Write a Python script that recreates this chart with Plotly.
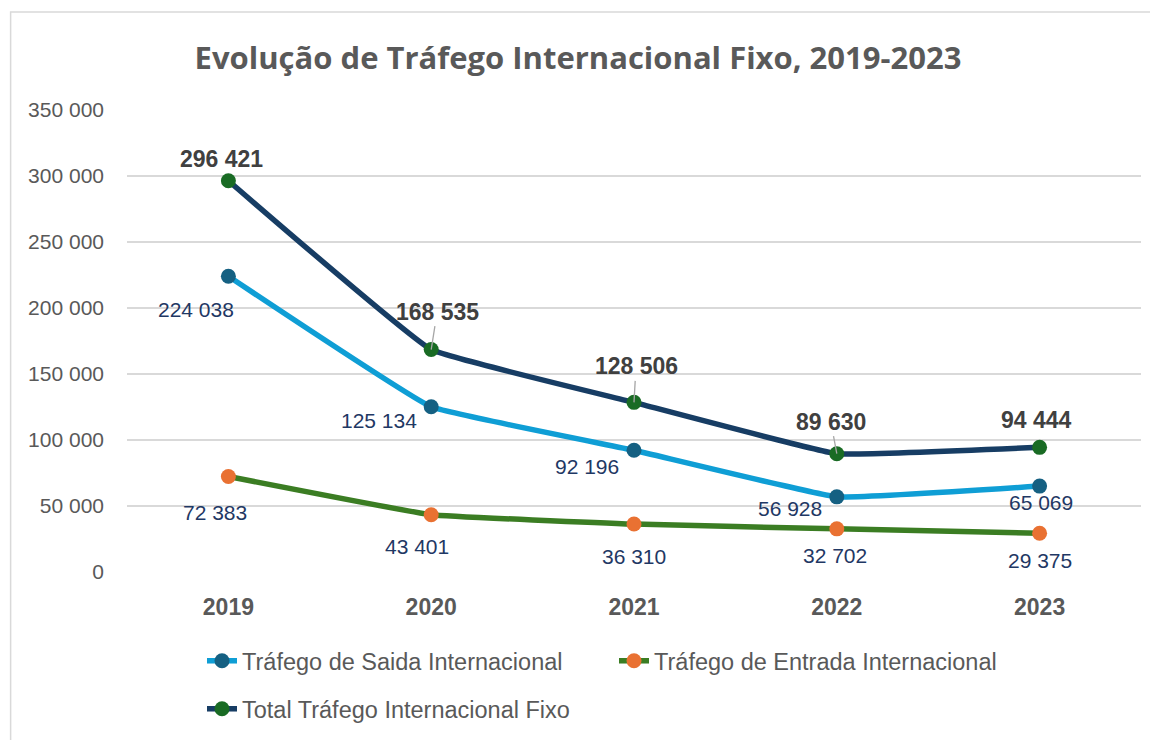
import plotly.graph_objects as go

# ---- data ----
years = ["2019", "2020", "2021", "2022", "2023"]
saida = [224038, 125134, 92196, 56928, 65069]
entrada = [72383, 43401, 36310, 32702, 29375]
total = [296421, 168535, 128506, 89630, 94444]
names = ["Tráfego de Saida Internacional", "Tráfego de Entrada Internacional",
         "Total Tráfego Internacional Fixo"]
title_text = "Evolução de Tráfego Internacional Fixo, 2019-2023"
y_ticks = [0, 50000, 100000, 150000, 200000, 250000, 300000, 350000]

# label pixel offsets (dx, dy; dy positive = down)
saida_off = [(-32, 33), (-52, 14), (-47, 16), (-47, 12), (1, 16)]
entrada_off = [(-13, 36), (-14, 32), (0, 32), (-2, 27), (0, 27)]
total_off = [(-7, -22), (6, -38), (2, -36), (-6, -32), (-3, -27)]
total_leader = [False, True, True, True, False]

def fmt(v):
    return f"{v:,}".replace(",", " ")

GRAY = "#595959"
NAVY_TXT = "#1F3864"
FONT = "Liberation Sans, Arial"

fig = go.Figure()
fig.add_trace(go.Scatter(
    x=years, y=saida, name=names[0], mode="lines+markers",
    line=dict(color="#0F9ED5", width=5.5, shape="spline", smoothing=0.25),
    marker=dict(color="#156082", size=15), legend="legend"))
fig.add_trace(go.Scatter(
    x=years, y=entrada, name=names[1], mode="lines+markers",
    line=dict(color="#3B7D23", width=5.5, shape="spline", smoothing=0.25),
    marker=dict(color="#E97132", size=15), legend="legend"))
fig.add_trace(go.Scatter(
    x=years, y=total, name=names[2], mode="lines+markers",
    line=dict(color="#173D64", width=5.5, shape="spline", smoothing=0.25),
    marker=dict(color="#196B24", size=15), legend="legend2"))

ann = []
for i, yr in enumerate(years):
    dx, dy = saida_off[i]
    ann.append(dict(x=i, y=saida[i], xref="x", yref="y", text=fmt(saida[i]),
                    showarrow=False, xshift=dx, yshift=-dy,
                    font=dict(family=FONT, size=21, color=NAVY_TXT)))
    dx, dy = entrada_off[i]
    ann.append(dict(x=i, y=entrada[i], xref="x", yref="y", text=fmt(entrada[i]),
                    showarrow=False, xshift=dx, yshift=-dy,
                    font=dict(family=FONT, size=21, color=NAVY_TXT)))
    dx, dy = total_off[i]
    if total_leader[i]:
        ann.append(dict(x=i, y=total[i], xref="x", yref="y",
                        text="<b>" + fmt(total[i]) + "</b>",
                        showarrow=True, ax=dx, ay=dy, arrowhead=0, arrowwidth=1.3,
                        arrowcolor="#A6A6A6",
                        font=dict(family=FONT, size=23, color="#404040")))
    else:
        ann.append(dict(x=i, y=total[i], xref="x", yref="y",
                        text="<b>" + fmt(total[i]) + "</b>",
                        showarrow=False, xshift=dx, yshift=-dy,
                        font=dict(family=FONT, size=23, color="#404040")))

# page has an 8px body margin; figure is drawn in screen coords minus OFF
OFF = 8
W, H = 1150, 732
L, R, T, B = 118.5, 16.5, 102, 168
pw, ph = W - L - R, H - T - B

def px_x(p):  # screen px -> paper x
    return (p - OFF - L) / pw

def px_y(p):  # screen px -> paper y
    return (H - B - (p - OFF)) / ph

def cx(p):  # screen px -> container x
    return (p - OFF) / W

def cy(p):  # screen px -> container y
    return 1 - (p - OFF) / H

fig.update_layout(
    width=W, height=H,
    margin=dict(l=L, r=R, t=T, b=B, autoexpand=False),
    paper_bgcolor="white", plot_bgcolor="white",
    separators=". ",
    title=dict(text="<b>" + title_text + "</b>", x=cx(578), xanchor="center",
               y=cy(58), yanchor="middle", xref="container", yref="container",
               font=dict(family="Open Sans", size=31, color=GRAY)),
    xaxis=dict(type="category", range=[-0.5, 4.5], showgrid=False, showline=False,
               zeroline=False, ticks="", ticklabelstandoff=19,
               tickfont=dict(family=FONT, size=23, color=GRAY),
               tickprefix="<b>", ticksuffix="</b>"),
    yaxis=dict(range=[0, 350000], tickvals=y_ticks, tickformat=",d",
               showgrid=True, gridcolor="#D9D9D9", gridwidth=1.5,
               zeroline=False, showline=False, ticks="", ticklabelstandoff=22,
               tickfont=dict(family=FONT, size=21, color=GRAY)),
    legend=dict(orientation="h", xref="container", yref="container",
                x=cx(202), xanchor="left", y=cy(661), yanchor="middle",
                entrywidth=367, entrywidthmode="pixels", bgcolor="rgba(0,0,0,0)",
                font=dict(family=FONT, size=23.5, color=GRAY)),
    legend2=dict(orientation="h", xref="container", yref="container",
                 x=cx(202), xanchor="left", y=cy(709), yanchor="middle",
                 bgcolor="rgba(0,0,0,0)",
                 font=dict(family=FONT, size=23.5, color=GRAY)),
    annotations=ann,
    shapes=[dict(type="rect", xref="paper", yref="paper",
                 x0=px_x(10), x1=px_x(1175), y0=px_y(770), y1=px_y(12),
                 line=dict(color="#D9D9D9", width=1.5), fillcolor="rgba(0,0,0,0)",
                 layer="below")],
)

fig.write_html("out.html")
